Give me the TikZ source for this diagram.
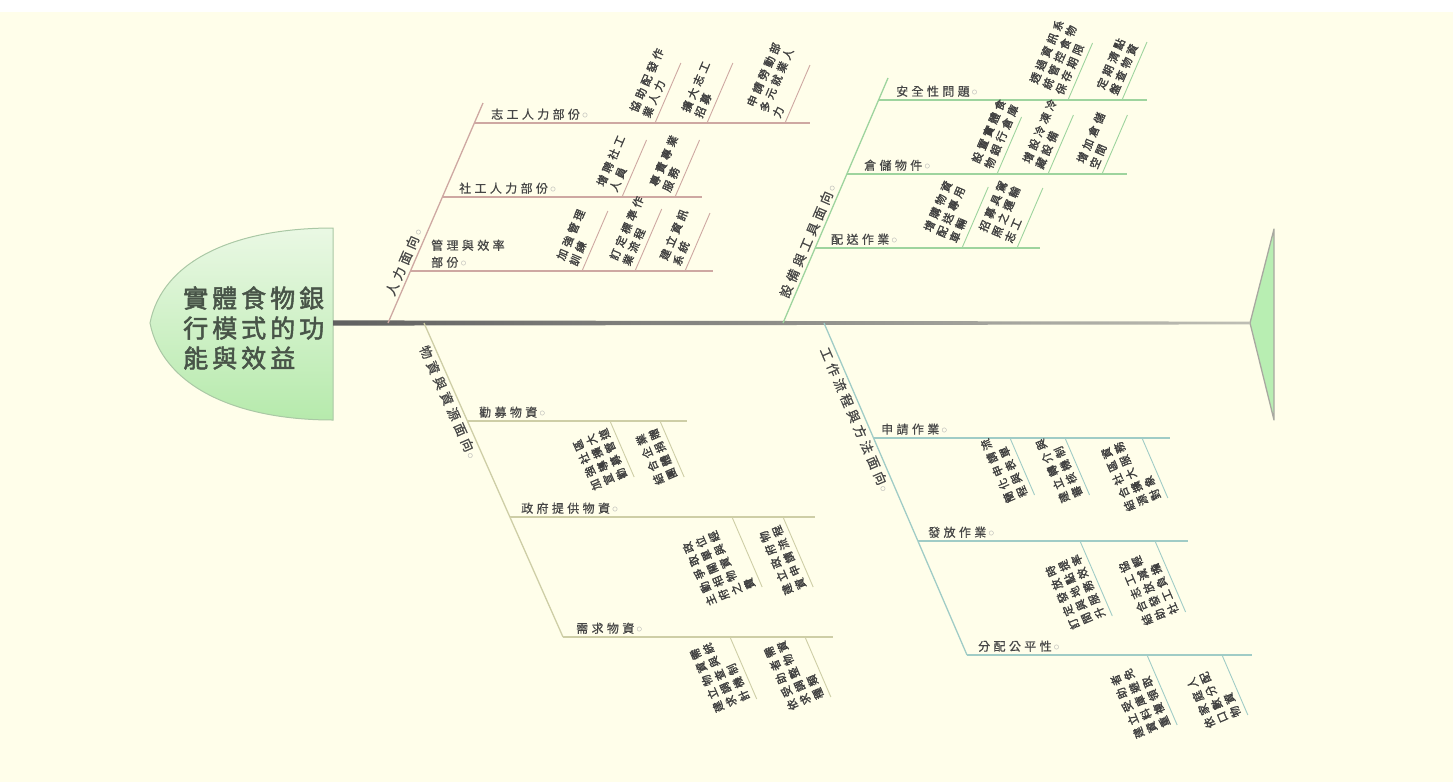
\documentclass[tikz,border=0pt]{standalone}
\usepackage{fontspec}
\usepackage{xcolor}
\usepackage{tikz}
\usetikzlibrary{calc}

\newfontfamily\cjkhead[FakeBold=2,LetterSpace=16]{Noto Sans CJK TC}
\newfontfamily\cjkbone[LetterSpace=30,FakeBold=0.6]{Noto Sans CJK TC}
\newfontfamily\cjklbl[LetterSpace=28,FakeBold=0.6]{Noto Sans CJK TC}
\newfontfamily\cjkleaf[LetterSpace=30,FakeBold=1.6]{Noto Sans CJK TC}

\definecolor{bgcream}{RGB}{255,254,234}
\definecolor{txtgray}{RGB}{70,70,70}
\definecolor{leafgray}{RGB}{62,62,62}
\definecolor{headtxt}{RGB}{72,84,72}
\definecolor{mkgray}{RGB}{175,175,175}
\definecolor{hrcol}{RGB}{206,168,162}
\definecolor{eqcol}{RGB}{158,212,158}
\definecolor{mtcol}{RGB}{206,206,166}
\definecolor{wfcol}{RGB}{160,204,198}
\definecolor{headtop}{RGB}{234,248,228}
\definecolor{headbot}{RGB}{182,234,172}
\definecolor{headrim}{RGB}{170,200,165}
\definecolor{tailfill}{RGB}{184,238,178}
\definecolor{tailrim}{RGB}{168,168,160}
\definecolor{spinedark}{RGB}{96,96,96}
\definecolor{spinelight}{RGB}{190,190,180}

\newcommand{\mk}{\hspace{2pt}{\color{mkgray}$\circ$}}

\begin{document}
\begin{tikzpicture}[
    x=1pt, y=-1pt,
    bone/.style={line width=1.3pt},
    rib/.style={line width=1.1pt},
    twig/.style={line width=0.9pt},
    bonelbl/.style={font=\cjkbone\fontsize{13}{15}\selectfont, text=txtgray, sloped, inner sep=3pt},
    lbl/.style={font=\cjklbl\fontsize{12}{17}\selectfont, text=txtgray, anchor=south west, inner sep=1pt, align=left},
    leaf/.style={font=\cjkleaf\fontsize{11}{14}\selectfont, text=leafgray, align=left, inner sep=0.5pt, anchor=south west},
    leafup/.style={leaf, rotate=66.7},
    leafdn/.style={leaf, rotate=113.3}
  ]
    % canvas
    \useasboundingbox (0,0) rectangle (1453,782);
    \fill[white] (0,0) rectangle (1453,782);
    \fill[bgcream] (0,12) rectangle (1453,782);

    % head
    \coordinate (hd-t) at (333,228);
    \coordinate (hd-w) at (150,323);
    \coordinate (hd-b) at (333,420);
    \coordinate (hd-e) at (333,323);
    \shadedraw[top color=headtop, bottom color=headbot, draw=headrim, line width=1pt]
      (hd-t) .. controls (232,228) and (162,262) .. (hd-w) .. controls (162,384) and (232,420) .. (hd-b) -- cycle;
    \node[font=\cjkhead\fontsize{25}{30}\selectfont, text=headtxt, align=left, anchor=west, inner sep=0pt] (hd) at (183,328) {實體食物銀\\行模式的功\\能與效益};

    % tail
    \coordinate (tl) at (1250,323);
    \coordinate (tl-t) at (1274,229);
    \coordinate (tl-b) at (1274,420);
    \filldraw[fill=tailfill, draw=tailrim, line width=1.3pt, line join=round] (tl) -- (tl-t) -- (tl-b) -- cycle;

    % spine
    \shade[left color=spinedark, right color=spinelight]
      ($(hd-e)+(0,-2.6)$) -- ($(tl)+(0,-1.4)$) -- ($(tl)+(0,1.4)$) -- ($(hd-e)+(0,2.6)$) -- cycle;

    % ---- 人力面向 ----
    \coordinate (hr-s) at (388,323);
    \coordinate (hr-e) at (483,103);
    \draw[bone, hrcol] (hr-s) -- node[bonelbl, pos=0.26, above] (hr-l) {人力面向\mk} (hr-e);
    \coordinate (zg-s) at (474,123); \coordinate (zg-e) at (810,123);
    \coordinate (sg-s) at (442,197); \coordinate (sg-e) at (702,197);
    \coordinate (gl-s) at (410,271); \coordinate (gl-e) at (713,271);
    \draw[rib, hrcol] (zg-s) -- (zg-e);
    \draw[rib, hrcol] (sg-s) -- (sg-e);
    \draw[rib, hrcol] (gl-s) -- (gl-e);
    \node[lbl] (zg-l) at ($(zg-s)+(16,-2)$) {志工人力部份\mk};
    \node[lbl] (sg-l) at ($(sg-s)+(16,-2)$) {社工人力部份\mk};
    \node[lbl] (gl-l) at ($(gl-s)+(20,-2)$) {管理與效率\\部份\mk};
    \foreach \n/\x/\y/\h in {zg1/655/123/60, zg2/707/123/60, zg3/785/123/58,
                             sg1/622/197/57, sg2/675/197/57,
                             gl1/582/271/60, gl2/635/271/62, gl3/685/271/58}{
      \coordinate (\n-a) at (\x,\y);
      \coordinate (\n-b) at ($(\n-a)+(0.4307*\h,-\h)$);
      \draw[twig, hrcol] (\n-a) -- (\n-b);
    }
    \node[leafup] (zg1) at ($(zg1-a)+(-4,-3)$) {協助配發作\\業人力};
    \node[leafup] (zg2) at ($(zg2-a)+(-4,-3)$) {擴大志工\\招募};
    \node[leafup] (zg3) at ($(zg3-a)+(-4,-3)$) {申請勞動部\\多元就業人\\力};
    \node[leafup] (sg1) at ($(sg1-a)+(-4,-3)$) {增聘社工\\人員};
    \node[leafup] (sg2) at ($(sg2-a)+(-4,-3)$) {專責專業\\服務};
    \node[leafup] (gl1) at ($(gl1-a)+(-4,-3)$) {加強管理\\訓練};
    \node[leafup] (gl2) at ($(gl2-a)+(-4,-3)$) {訂定標準作\\業流程};
    \node[leafup] (gl3) at ($(gl3-a)+(-4,-3)$) {建立資訊\\系統};

    % ---- 設備與工具面向 ----
    \coordinate (eq-s) at (783,323);
    \coordinate (eq-e) at (888,78);
    \draw[bone, eqcol] (eq-s) -- node[bonelbl, pos=0.32, above] (eq-l) {設備與工具面向\mk} (eq-e);
    \coordinate (aq-s) at (879,100); \coordinate (aq-e) at (1147,100);
    \coordinate (cc-s) at (847,174); \coordinate (cc-e) at (1127,174);
    \coordinate (ps-s) at (815,248); \coordinate (ps-e) at (1040,248);
    \draw[rib, eqcol] (aq-s) -- (aq-e);
    \draw[rib, eqcol] (cc-s) -- (cc-e);
    \draw[rib, eqcol] (ps-s) -- (ps-e);
    \node[lbl] (aq-l) at ($(aq-s)+(16,-2)$) {安全性問題\mk};
    \node[lbl] (cc-l) at ($(cc-s)+(16,-2)$) {倉儲物件\mk};
    \node[lbl] (ps-l) at ($(ps-s)+(15,-2)$) {配送作業\mk};
    \foreach \n/\x/\y/\h in {aq1/1068/100/57, aq2/1122/100/58,
                             cc1/997/174/57, cc2/1048/174/59, cc3/1102/174/59,
                             ps1/962/248/61, ps2/1017/248/60}{
      \coordinate (\n-a) at (\x,\y);
      \coordinate (\n-b) at ($(\n-a)+(0.4307*\h,-\h)$);
      \draw[twig, eqcol] (\n-a) -- (\n-b);
    }
    \node[leafup] (aq1) at ($(aq1-a)+(-4,-3)$) {透過資訊系\\統管控食物\\保存期限};
    \node[leafup] (aq2) at ($(aq2-a)+(-4,-3)$) {定期清點\\盤查物資};
    \node[leafup] (cc1) at ($(cc1-a)+(-4,-3)$) {設置實體食\\物銀行倉庫};
    \node[leafup] (cc2) at ($(cc2-a)+(-4,-3)$) {增設冷凍冷\\藏設備};
    \node[leafup] (cc3) at ($(cc3-a)+(-4,-3)$) {增加倉儲\\空間};
    \node[leafup] (ps1) at ($(ps1-a)+(-4,-3)$) {增購物資\\配送專用\\車輛};
    \node[leafup] (ps2) at ($(ps2-a)+(-4,-3)$) {招募具駕\\照之運輸\\志工};

    % ---- 物資與資源面向 ----
    \coordinate (mt-s) at (424,323);
    \coordinate (mt-e) at (563,637);
    \draw[bone, mtcol] (mt-s) -- node[bonelbl, pos=0.24, below] (mt-l) {物資與資源面向\mk} (mt-e);
    \coordinate (qm-s) at (467,421); \coordinate (qm-e) at (687,421);
    \coordinate (zf-s) at (510,517); \coordinate (zf-e) at (815,517);
    \coordinate (xq-s) at (563,637); \coordinate (xq-e) at (833,637);
    \draw[rib, mtcol] (qm-s) -- (qm-e);
    \draw[rib, mtcol] (zf-s) -- (zf-e);
    \draw[rib, mtcol] (xq-s) -- (xq-e);
    \node[lbl] (qm-l) at ($(qm-s)+(11,-2)$) {勸募物資\mk};
    \node[lbl] (zf-l) at ($(zf-s)+(10,-2)$) {政府提供物資\mk};
    \node[lbl] (xq-l) at ($(xq-s)+(12,-2)$) {需求物資\mk};
    \foreach \n/\x/\y/\h in {qm1/610/421/56, qm2/660/421/56,
                             zf1/732/517/70, zf2/783/517/70,
                             xq1/730/637/62, xq2/805/637/60}{
      \coordinate (\n-a) at (\x,\y);
      \coordinate (\n-b) at ($(\n-a)+(0.4307*\h,\h)$);
      \draw[twig, mtcol] (\n-a) -- (\n-b);
    }
    \node[leafdn] (qm1) at ($(qm1-b)+(-5,0)$) {加強社區\\宣導擴大\\勸募管道};
    \node[leafdn] (qm2) at ($(qm2-b)+(-5,0)$) {結合企業\\團體捐贈};
    \node[leafdn] (zf1) at ($(zf1-b)+(-5,0)$) {主動爭取政\\府相關單位\\之物資與經\\費};
    \node[leafdn] (zf2) at ($(zf2-b)+(-5,0)$) {建立政府物\\資申請流程};
    \node[leafdn] (xq1) at ($(xq1-b)+(-5,0)$) {建立物資需\\求調查與統\\計機制};
    \node[leafdn] (xq2) at ($(xq2-b)+(-5,0)$) {依受助者需\\求調整物資\\種類};

    % ---- 工作流程與方法面向 ----
    \coordinate (wf-s) at (824,323);
    \coordinate (wf-e) at (967,655);
    \draw[bone, wfcol] (wf-s) -- node[bonelbl, pos=0.28, below] (wf-l) {工作流程與方法面向\mk} (wf-e);
    \coordinate (sq-s) at (873,438); \coordinate (sq-e) at (1170,438);
    \coordinate (ff-s) at (918,541); \coordinate (ff-e) at (1188,541);
    \coordinate (fp-s) at (967,655); \coordinate (fp-e) at (1252,655);
    \draw[rib, wfcol] (sq-s) -- (sq-e);
    \draw[rib, wfcol] (ff-s) -- (ff-e);
    \draw[rib, wfcol] (fp-s) -- (fp-e);
    \node[lbl] (sq-l) at ($(sq-s)+(7,-2)$) {申請作業\mk};
    \node[lbl] (ff-l) at ($(ff-s)+(9,-2)$) {發放作業\mk};
    \node[lbl] (fp-l) at ($(fp-s)+(10,-2)$) {分配公平性\mk};
    \foreach \n/\x/\y/\h in {sq1/1010/438/57, sq2/1065/438/57, sq3/1142/438/60,
                             ff1/1080/541/75, ff2/1155/541/71,
                             fp1/1147/655/70, fp2/1222/655/60}{
      \coordinate (\n-a) at (\x,\y);
      \coordinate (\n-b) at ($(\n-a)+(0.4307*\h,\h)$);
      \draw[twig, wfcol] (\n-a) -- (\n-b);
    }
    \node[leafdn] (sq1) at ($(sq1-b)+(-5,0)$) {簡化申請流\\程與表單};
    \node[leafdn] (sq2) at ($(sq2-b)+(-5,0)$) {建立轉介與\\審核機制};
    \node[leafdn] (sq3) at ($(sq3-b)+(-5,0)$) {結合社區資\\源擴大服務\\對象};
    \node[leafdn] (ff1) at ($(ff1-b)+(-5,0)$) {訂定發放時\\間與地點提\\升服務效率};
    \node[leafdn] (ff2) at ($(ff2-b)+(-5,0)$) {結合志工協\\助發放減輕\\社工負擔};
    \node[leafdn] (fp1) at ($(fp1-b)+(-5,0)$) {建立受助者\\資料庫避免\\重複領取};
    \node[leafdn] (fp2) at ($(fp2-b)+(-5,0)$) {依家庭人\\口數分配\\物資};
  \end{tikzpicture}
\end{document}
